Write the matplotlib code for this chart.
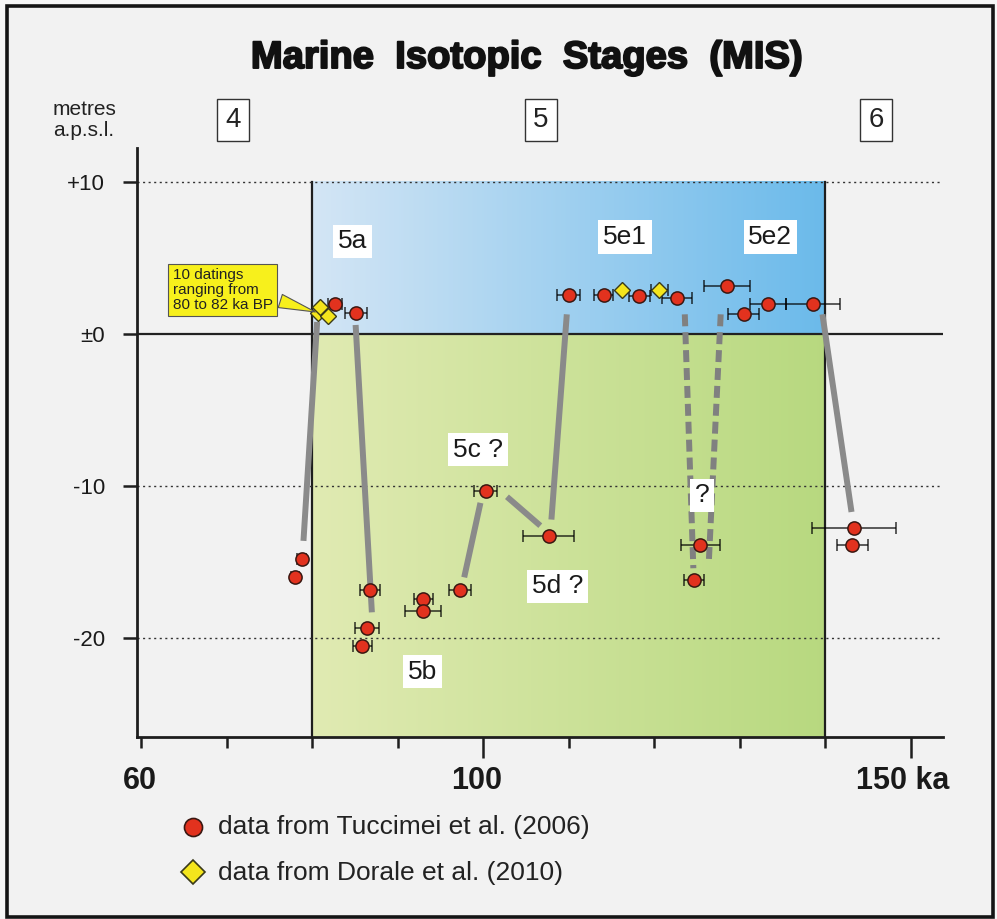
import numpy as np
import matplotlib.pyplot as plt
import matplotlib.patheffects as pe
import matplotlib.transforms as mtransforms
from matplotlib.patches import Rectangle

plt.rcParams['font.family'] = ['Liberation Sans', 'DejaVu Sans']

# ---------------- data ----------------
# Tuccimei et al. (2006): age (ka), elevation (m a.p.s.l.), age error (ka)
tuc_age = [78.8, 78.0, 82.7, 85.1, 86.8, 86.4, 85.9, 93.0, 93.0, 97.3, 100.3, 107.7,
           110.0, 114.1, 118.3, 122.7, 128.5, 130.5, 133.3, 138.6, 125.4, 124.7, 143.4, 143.2]
tuc_elev = [-14.8, -16.0, 2.0, 1.4, -16.85, -19.3, -20.5, -17.4, -18.2, -16.85, -10.3, -13.3,
            2.6, 2.6, 2.5, 2.4, 3.15, 1.3, 2.0, 2.0, -13.9, -16.2, -12.75, -13.9]
tuc_err = [0.5, 0.5, 0.8, 1.3, 1.2, 1.4, 1.1, 1.1, 2.1, 1.3, 1.3, 3.0,
           1.4, 1.1, 1.2, 1.8, 2.7, 1.8, 2.1, 3.2, 2.3, 1.2, 4.9, 1.8]

# Dorale et al. (2010)
dor_age = [80.7, 80.9, 81.9, 116.2, 120.6]
dor_elev = [1.4, 1.8, 1.2, 2.9, 2.9]
dor_err = [0.0, 0.0, 0.0, 0.0, 1.0]

# connector lines (age0, elev0, age1, elev1)
solid_a0 = [79.0, 85.1, 97.8, 102.8, 108.0, 139.7]
solid_e0 = [-13.6, 0.6, -16.0, -10.7, -12.2, 1.3]
solid_a1 = [80.6, 87.0, 99.7, 106.7, 109.8, 143.1]
solid_e1 = [0.8, -18.3, -11.1, -12.6, 1.3, -11.7]
dash_a0 = [123.6, 127.8]
dash_e0 = [1.3, 1.3]
dash_a1 = [124.6, 126.4]
dash_e1 = [-15.4, -15.1]

mis5_bounds = [80, 140]
mis5_top = 10
ytick_vals = [10, 0, -10, -20]
ytick_labels = ['+10', '±0', '-10', '-20']
xtick_vals = [60, 100, 150]
xtick_labels = ['60', '100', '150 ka']
xminor_vals = [70, 80, 90, 110, 120, 130, 140]

substage_labels = ['5a', '5e1', '5e2', '5c ?', '5d ?', '5b', '?']
substage_x = [84.7, 116.6, 133.6, 99.4, 108.7, 92.9, 125.6]
substage_y = [6.1, 6.4, 6.4, -7.6, -16.6, -22.2, -10.6]

stage_labels = ['4', '5', '6']

# ---------------- figure ----------------
W, H = 997, 919
fig = plt.figure(figsize=(W / 100, H / 100), dpi=100)
fig.patch.set_facecolor('#f7f7f7')
fig.add_artist(Rectangle((7 / W, 2 / H), 986 / W, 911 / H, transform=fig.transFigure,
                         facecolor='#f2f2f2', edgecolor='#151515', lw=2.6, zorder=0))

ax = fig.add_axes([137 / W, 1 - 737 / H, (943 - 137) / W, (737 - 148) / H])
ax.set_facecolor('none')
xmin, xmax = 59.53, 153.8
ymin, ymax = -26.5, 12.24

# gradients
grad = np.linspace(0, 1, 256)[None, :, None]
blue_l = np.array([0.83, 0.90, 0.96]); blue_r = np.array([0.42, 0.73, 0.92])
green_l = np.array([0.88, 0.92, 0.70]); green_r = np.array([0.72, 0.85, 0.50])
ax.imshow(blue_l + (blue_r - blue_l) * grad, extent=[mis5_bounds[0], mis5_bounds[1], 0, mis5_top],
          aspect='auto', zorder=0.5, interpolation='bilinear')
ax.imshow(green_l + (green_r - green_l) * grad, extent=[mis5_bounds[0], mis5_bounds[1], ymin, 0],
          aspect='auto', zorder=0.5, interpolation='bilinear')
ax.set_xlim(xmin, xmax)
ax.set_ylim(ymin, ymax)
for b in mis5_bounds:
    ax.plot([b, b], [ymin, mis5_top], color='#1e1e1e', lw=1.6, zorder=1)

# grid lines
for v in [10, -10, -20]:
    ax.axhline(v, color='#333333', lw=1.0, ls=(0, (1.5, 2.5)), zorder=1)
ax.axhline(0, color='#222222', lw=1.6, zorder=1)

# connectors
for a0, e0, a1, e1 in zip(solid_a0, solid_e0, solid_a1, solid_e1):
    ax.plot([a0, a1], [e0, e1], color='#8a8a8a', lw=4.3, solid_capstyle='butt', zorder=2)
for a0, e0, a1, e1 in zip(dash_a0, dash_e0, dash_a1, dash_e1):
    ax.plot([a0, a1], [e0, e1], color='#808080', lw=4.3, ls=(0, (2.0, 1.0)),
            dash_capstyle='butt', zorder=2)

# error bars and points
ax.errorbar(tuc_age, tuc_elev, xerr=tuc_err, fmt='none', ecolor=(0, 0, 0, 0.68),
            elinewidth=1.3, capsize=4.3, capthick=1.3, zorder=3)
ax.errorbar(dor_age, dor_elev, xerr=dor_err, fmt='none', ecolor=(0, 0, 0, 0.68),
            elinewidth=1.3, capsize=4.3, capthick=1.3, zorder=3)
ax.plot(dor_age, dor_elev, 'D', ms=8.5, mfc='#f4e51c', mec='#3a3a1a', mew=1.0, ls='none', zorder=4)
ax.plot(tuc_age, tuc_elev, 'o', ms=9.5, mfc='#e2321e', mec='#3a1812', mew=1.1, ls='none', zorder=5)

# substage labels
for t, x, y in zip(substage_labels, substage_x, substage_y):
    ax.text(x, y, t, fontsize=19, ha='center', va='center', color='#1a1a1a', zorder=6,
            bbox=dict(boxstyle='square,pad=0.18', fc='white', ec='none'))

# callout
ax.annotate('10 datings\nranging from\n80 to 82 ka BP', xy=(dor_age[0], dor_elev[0]),
            xytext=(63.7, 2.9), fontsize=11, ha='left', va='center', linespacing=1.05,
            color='#222222', zorder=7,
            bbox=dict(boxstyle='square,pad=0.3', fc='#f7f01c', ec='#555555', lw=0.8),
            arrowprops=dict(arrowstyle='wedge,tail_width=0.9,shrink_factor=0.5', fc='#f7f01c',
                            ec='#555555', lw=0.8, relpos=(1.0, 0.3)))

# axes styling
for s in ['top', 'right']:
    ax.spines[s].set_visible(False)
ax.spines['left'].set_linewidth(2.0)
ax.spines['bottom'].set_linewidth(2.0)
ax.spines['left'].set_color('#1e1e1e')
ax.spines['bottom'].set_color('#1e1e1e')
ax.set_yticks(ytick_vals)
ax.set_yticklabels(ytick_labels, fontsize=16, color='#1a1a1a')
ax.tick_params(axis='y', length=10, width=1.8, pad=13, color='#1e1e1e')
ax.set_xticks(xtick_vals)
ax.set_xticklabels(xtick_labels, fontsize=22, fontweight='bold', color='#1a1a1a')
ax.set_xticks(xminor_vals, minor=True)
ax.tick_params(axis='x', which='major', length=15, width=1.8, pad=6, color='#1e1e1e')
ax.tick_params(axis='x', which='minor', length=8, width=1.8, color='#1e1e1e')
ax.xaxis.get_major_ticks()[0].tick1line.set_markersize(8)
for lbl, dx in zip(ax.get_xticklabels(), [-1, -6, -8]):
    lbl.set_transform(lbl.get_transform() + mtransforms.Affine2D().translate(dx, 0))

# title and stage boxes
fig.text(527 / W, 1 - 58 / H, 'Marine  Isotopic  Stages  (MIS)', fontsize=27.5, fontweight='bold',
         ha='center', va='center', color='#111111',
         path_effects=[pe.withStroke(linewidth=1.4, foreground='#111111')])
for t, px in zip(stage_labels, [233, 541, 876]):
    fig.text(px / W, 1 - 120 / H, t, fontsize=20, ha='center', va='center', color='#222222',
             bbox=dict(boxstyle='square,pad=0.3', fc='white', ec='#333333', lw=1.0))
fig.text(53 / W, 1 - 100 / H, 'metres\na.p.s.l.', fontsize=15, ha='left', va='top',
         multialignment='left', color='#222222', linespacing=1.1)

# legend
fig.text(218 / W, 1 - 827 / H, 'data from Tuccimei et al. (2006)', fontsize=19, ha='left',
         va='center', color='#222222')
fig.text(218 / W, 1 - 873 / H, 'data from Dorale et al. (2010)', fontsize=19, ha='left',
         va='center', color='#222222')
lax = fig.add_axes([0, 0, 1, 1], facecolor='none')
lax.set_xlim(0, W); lax.set_ylim(H, 0); lax.axis('off')
lax.plot([193], [827], 'o', ms=13, mfc='#e2321e', mec='#3a1812', mew=1.2)
lax.plot([193], [872], 'D', ms=12, mfc='#f4e51c', mec='#3a3a1a', mew=1.2)

fig.savefig('out.png', dpi=100, facecolor=fig.get_facecolor())
